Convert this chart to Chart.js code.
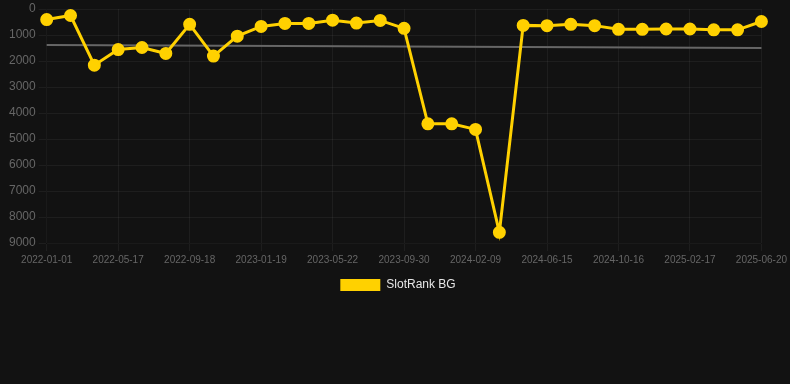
<!DOCTYPE html>
<html>
<head>
<meta charset="utf-8">
<script src="https://cdn.jsdelivr.net/npm/chart.js@4"></script>
<style>
  html, body { margin: 0; padding: 0; background: #121212; }
  .wrap { position: relative; width: 790px; height: 301px; }
</style>
</head>
<body>
<div class="wrap"><canvas id="rankChart"></canvas></div>
<script>
// dates (one point every ~6 weeks)
const dates = [
  '2022-01-01', '2022-02-15', '2022-03-31', '2022-05-17', '2022-06-27', '2022-08-07',
  '2022-09-18', '2022-10-30', '2022-12-09', '2023-01-19', '2023-03-01', '2023-04-11',
  '2023-05-22', '2023-07-04', '2023-08-17', '2023-09-30', '2023-11-13', '2023-12-27',
  '2024-02-09', '2024-03-24', '2024-05-01', '2024-06-15', '2024-07-27', '2024-09-05',
  '2024-10-16', '2024-11-27', '2025-01-07', '2025-02-17', '2025-03-31', '2025-05-10',
  '2025-06-20'
];
const rankBG = [
  405, 250, 2160, 1560, 1480, 1710,
  590, 1810, 1045, 670, 555, 555,
  430, 540, 440, 745, 4415, 4415,
  4630, 8590, 630, 640, 590, 640,
  780, 780, 770, 770, 800, 800,
  480
];
// trend line, start and end only
const trendStart = 1385;
const trendEnd = 1500;
const yTicks = [0, 1000, 2000, 3000, 4000, 5000, 6000, 7000, 8000, 9000];

const font = 'Arial, "Liberation Sans", sans-serif';

const ctx = document.getElementById('rankChart').getContext('2d');
new Chart(ctx, {
  type: 'line',
  data: {
    labels: dates,
    datasets: [
      {
        label: 'SlotRank BG',
        data: rankBG,
        borderColor: '#FFD100',
        backgroundColor: '#FFD100',
        borderWidth: 3,
        pointRadius: 5,
        pointHoverRadius: 6,
        tension: 0
      },
      {
        label: 'trend',
        data: [{ x: dates[0], y: trendStart }, { x: dates[dates.length - 1], y: trendEnd }],
        borderColor: '#666666',
        borderWidth: 2,
        pointRadius: 0,
        tension: 0
      }
    ]
  },
  options: {
    responsive: true,
    maintainAspectRatio: false,
    animation: false,
    layout: { padding: { left: 6 } },
    plugins: {
      legend: {
        position: 'bottom',
        labels: {
          color: '#e6e6e6',
          boxWidth: 40,
          font: { family: font, size: 12 },
          generateLabels: chart => Chart.defaults.plugins.legend.labels.generateLabels(chart)
            .filter(item => item.text !== 'trend')
            .map(item => Object.assign(item, { lineWidth: 0 }))
        }
      },
      tooltip: { enabled: false }
    },
    scales: {
      x: {
        grid: { color: 'rgba(255,255,255,0.05)' },
        ticks: {
          color: '#666',
          autoSkip: false,
          maxRotation: 0,
          font: { family: font, size: 10 },
          callback: function (v, i) { return i % 3 === 0 ? dates[i] : null; }
        }
      },
      y: {
        reverse: true,
        min: yTicks[0],
        max: yTicks[yTicks.length - 1],
        grid: { color: 'rgba(255,255,255,0.05)' },
        afterBuildTicks: axis => { axis.ticks = yTicks.map(v => ({ value: v })); },
        ticks: {
          color: '#666',
          font: { family: font, size: 12, lineHeight: 0.6 },
          callback: v => String(v)
        }
      }
    }
  }
});
</script>
</body>
</html>
